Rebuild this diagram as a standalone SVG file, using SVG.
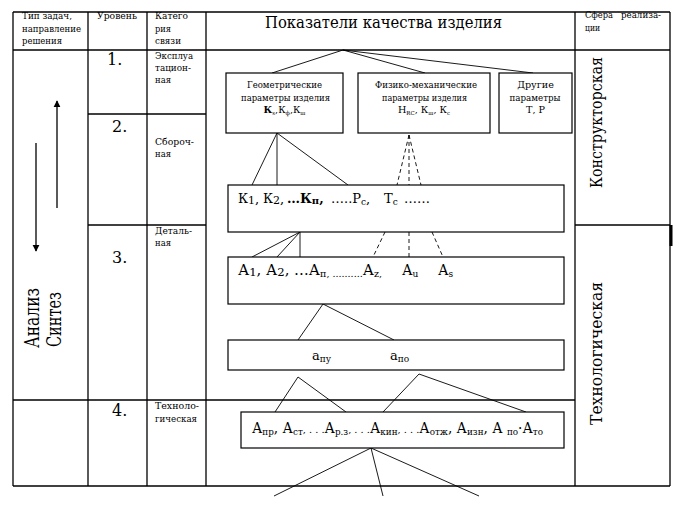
<svg xmlns="http://www.w3.org/2000/svg" width="683" height="506" viewBox="0 0 683 506">
<defs>
<style>
text{font-family:"DejaVu Serif","Liberation Serif",serif;fill:#000}
.t{stroke:#000;stroke-width:1.3;fill:none}
.b{stroke:#000;stroke-width:1.2;fill:#fff}
.c{stroke:#000;stroke-width:0.9;fill:none}
.d{stroke:#000;stroke-width:0.9;fill:none;stroke-dasharray:4 3}
.s11{font-size:10px}
.s10{font-size:9.6px}
.big{font-size:14px}
.kr{font-size:13px}
.sub{font-size:9px}
.num{font-size:16px}
</style>
<marker id="ah" viewBox="0 0 10 10" refX="9" refY="5" markerWidth="7" markerHeight="9" orient="auto" markerUnits="userSpaceOnUse">
<path d="M0,0 L10,5 L0,10 z" fill="#000"/>
</marker>
</defs>
<rect width="683" height="506" fill="#fff"/>

<g id="table">
<line class="t" x1="13" y1="12" x2="670" y2="12"/>
<line class="t" x1="13" y1="50" x2="670" y2="50"/>
<line class="t" x1="13" y1="486" x2="670" y2="486"/>
<line class="t" x1="13" y1="12" x2="13" y2="486"/>
<line class="t" x1="88" y1="12" x2="88" y2="486"/>
<line class="t" x1="147" y1="12" x2="147" y2="486"/>
<line class="t" x1="206" y1="12" x2="206" y2="486"/>
<line class="t" x1="575" y1="12" x2="575" y2="486"/>
<line class="t" x1="670" y1="12" x2="670" y2="486"/>
<line class="t" x1="88" y1="114" x2="206" y2="114"/>
<line class="t" x1="88" y1="225" x2="206" y2="225"/>
<line class="t" x1="575" y1="225" x2="670" y2="225"/>
<line class="t" x1="13" y1="400" x2="575" y2="400"/>
<rect x="669.5" y="225" width="3" height="21" fill="#000"/>
</g>

<g id="headers">
<text class="s11" x="22" y="19" textLength="50" lengthAdjust="spacingAndGlyphs">Тип задач,</text>
<text class="s11" x="22" y="32" textLength="59" lengthAdjust="spacingAndGlyphs">направление</text>
<text class="s11" x="22" y="44" textLength="40" lengthAdjust="spacingAndGlyphs">решения</text>
<text class="s11" x="97" y="19" textLength="40" lengthAdjust="spacingAndGlyphs">Уровень</text>
<text class="s11" x="155" y="19" textLength="33" lengthAdjust="spacingAndGlyphs">Катего</text>
<text class="s11" x="155" y="32" textLength="16" lengthAdjust="spacingAndGlyphs">рия</text>
<text class="s11" x="155" y="44" textLength="26" lengthAdjust="spacingAndGlyphs">связи</text>
<text x="265" y="28" font-size="17" textLength="237" lengthAdjust="spacingAndGlyphs">Показатели качества изделия</text>
<text class="s11" x="585" y="18" textLength="28" lengthAdjust="spacingAndGlyphs">Сфера</text>
<text class="s11" x="621" y="18" textLength="40" lengthAdjust="spacingAndGlyphs">реализа-</text>
<text class="s11" x="585" y="31" textLength="15" lengthAdjust="spacingAndGlyphs">ции</text>
</g>

<g id="levels">
<text class="num" x="107" y="65">1.</text>
<text class="num" x="112" y="132">2.</text>
<text class="num" x="112" y="263">3.</text>
<text class="num" x="112" y="416">4.</text>
<text class="s11" x="155" y="59" textLength="38" lengthAdjust="spacingAndGlyphs">Эксплуа</text>
<text class="s11" x="155" y="71" textLength="36" lengthAdjust="spacingAndGlyphs">тацион-</text>
<text class="s11" x="155" y="83" textLength="16" lengthAdjust="spacingAndGlyphs">ная</text>
<text class="s11" x="155" y="145" textLength="39" lengthAdjust="spacingAndGlyphs">Сбороч-</text>
<text class="s11" x="155" y="157" textLength="16" lengthAdjust="spacingAndGlyphs">ная</text>
<text class="s11" x="155" y="234" textLength="37" lengthAdjust="spacingAndGlyphs">Деталь-</text>
<text class="s11" x="155" y="246" textLength="16" lengthAdjust="spacingAndGlyphs">ная</text>
<text class="s11" x="155" y="409" textLength="44" lengthAdjust="spacingAndGlyphs">Техноло-</text>
<text class="s11" x="155" y="422" textLength="42" lengthAdjust="spacingAndGlyphs">гическая</text>
</g>

<g id="direction">
<line class="t" x1="57" y1="208" x2="57" y2="101" marker-end="url(#ah)"/>
<line class="t" x1="36" y1="143" x2="36" y2="251" marker-end="url(#ah)"/>
<text x="0" y="0" font-size="20" transform="translate(39,348) rotate(-90)" textLength="60" lengthAdjust="spacingAndGlyphs">Анализ</text>
<text x="0" y="0" font-size="20" transform="translate(61,347) rotate(-90)" textLength="55" lengthAdjust="spacingAndGlyphs">Синтез</text>
</g>

<g id="spheres">
<text x="0" y="0" font-size="16.5" transform="translate(602,188) rotate(-90)" textLength="131" lengthAdjust="spacingAndGlyphs">Конструкторская</text>
<text x="0" y="0" font-size="16.5" transform="translate(602,425) rotate(-90)" textLength="143" lengthAdjust="spacingAndGlyphs">Технологическая</text>
</g>

<g id="connectors">
<line class="c" x1="343" y1="50" x2="272" y2="73"/>
<line class="c" x1="343" y1="50" x2="425" y2="73"/>
<line class="c" x1="343" y1="50" x2="533" y2="73"/>
<line class="c" x1="277" y1="133" x2="252" y2="185"/>
<line class="c" x1="277" y1="133" x2="277" y2="185"/>
<line class="c" x1="277" y1="133" x2="348" y2="185"/>
<line class="d" x1="409" y1="135" x2="397" y2="185"/>
<line class="d" x1="409" y1="135" x2="409" y2="185"/>
<line class="d" x1="409" y1="135" x2="421" y2="185"/>
<line class="c" x1="300" y1="232" x2="252" y2="257"/>
<line class="c" x1="300" y1="232" x2="277" y2="257"/>
<line class="c" x1="300" y1="232" x2="300" y2="257"/>
<line class="d" x1="385" y1="232" x2="373" y2="257"/>
<line class="d" x1="409" y1="232" x2="409" y2="257"/>
<line class="d" x1="432" y1="232" x2="443" y2="257"/>
<line class="c" x1="323" y1="304" x2="298" y2="340"/>
<line class="c" x1="323" y1="304" x2="394" y2="340"/>
<line class="c" x1="298" y1="377" x2="275" y2="412"/>
<line class="c" x1="298" y1="377" x2="346" y2="412"/>
<line class="c" x1="419" y1="374" x2="383" y2="412"/>
<line class="c" x1="419" y1="374" x2="526" y2="412"/>
<line class="c" x1="371" y1="448" x2="274" y2="496"/>
<line class="c" x1="371" y1="448" x2="383" y2="496"/>
<line class="c" x1="371" y1="448" x2="479" y2="496"/>
</g>

<g id="geom">
<rect class="b" x="226" y="73" width="117" height="60"/>
<text class="s10" x="247" y="88" textLength="75" lengthAdjust="spacingAndGlyphs">Геометрические</text>
<text class="s10" x="241" y="101" textLength="89" lengthAdjust="spacingAndGlyphs">параметры изделия</text>
<text class="s10" x="284.5" y="113" text-anchor="middle"><tspan font-weight="bold">К</tspan><tspan font-size="5.5" dy="2">s</tspan><tspan dy="-2">,К</tspan><tspan font-size="5.5" dy="2">ф</tspan><tspan dy="-2">,К</tspan><tspan font-size="5.5" dy="2">ш</tspan></text>
</g>

<g id="phys">
<rect class="b" x="358" y="73" width="132" height="60"/>
<text class="s10" x="375" y="88" textLength="102" lengthAdjust="spacingAndGlyphs">Физико-механические</text>
<text class="s10" x="382" y="101" textLength="85" lengthAdjust="spacingAndGlyphs">параметры изделия</text>
<text class="s10" x="424" y="113" text-anchor="middle">Н<tspan font-size="5.5" dy="2">RC</tspan><tspan dy="-2">, К</tspan><tspan font-size="5.5" dy="2">ш</tspan><tspan dy="-2">, К</tspan><tspan font-size="5.5" dy="2">с</tspan></text>
</g>

<g id="other">
<rect class="b" x="499" y="73" width="73" height="60"/>
<text class="s10" x="535.5" y="88" text-anchor="middle">Другие</text>
<text class="s10" x="509.5" y="101" textLength="51" lengthAdjust="spacingAndGlyphs">параметры</text>
<text class="s10" x="535.5" y="113" text-anchor="middle">Т, Р</text>
</g>

<g id="kbox">
<rect class="b" x="228" y="185" width="336" height="47"/>
<text class="kr" x="238" y="203">К<tspan font-size="11" dy="1">1</tspan><tspan dy="-1">,</tspan></text>
<text class="kr" x="263" y="203">К<tspan font-size="11" dy="1">2</tspan><tspan dy="-1">,</tspan></text>
<text class="kr" x="287" y="203" font-weight="bold">…К<tspan font-size="10" dy="1">п</tspan><tspan dy="-1">,</tspan></text>
<text class="kr" x="331" y="203">…..Р<tspan class="sub" dy="2">с</tspan><tspan dy="-2">,</tspan></text>
<text class="kr" x="384" y="203">Т<tspan class="sub" dy="2">с</tspan></text>
<text class="kr" x="404" y="203">……</text>
</g>

<g id="abox">
<rect class="b" x="228" y="257" width="336" height="47"/>
<text class="big" x="238" y="275" textLength="144" lengthAdjust="spacingAndGlyphs">А<tspan font-size="11" dy="1">1</tspan><tspan dy="-1">, А</tspan><tspan font-size="11" dy="1">2</tspan><tspan dy="-1">, …А</tspan><tspan class="sub" dy="2">п, ..........</tspan><tspan dy="-2">А</tspan><tspan class="sub" dy="2">z,</tspan></text>
<text class="big" x="402" y="275">А<tspan class="sub" dy="2">u</tspan></text>
<text class="big" x="438" y="275">А<tspan class="sub" dy="2">s</tspan></text>
</g>

<g id="smallabox">
<rect class="b" x="228" y="340" width="336" height="30"/>
<text font-size="13" x="312" y="360">а<tspan class="sub" dy="2">пу</tspan></text>
<text font-size="13" x="390" y="360">а<tspan class="sub" dy="2">по</tspan></text>
</g>

<g id="techbox">
<rect class="b" x="241" y="412" width="323" height="36"/>
<text class="big" x="252" y="433" textLength="291" lengthAdjust="spacingAndGlyphs">А<tspan class="sub" dy="2">пр</tspan><tspan dy="-2">, А</tspan><tspan class="sub" dy="2">ст</tspan><tspan dy="-2" font-size="10">, . . .</tspan><tspan>А</tspan><tspan class="sub" dy="2">р.з</tspan><tspan dy="-2" font-size="10">, . . .</tspan><tspan>А</tspan><tspan class="sub" dy="2">кин</tspan><tspan dy="-2" font-size="10">,  . . .</tspan><tspan>А</tspan><tspan class="sub" dy="2">отж</tspan><tspan dy="-2">, А</tspan><tspan class="sub" dy="2">изн</tspan><tspan dy="-2">, А </tspan><tspan class="sub" dy="2">по</tspan><tspan dy="-2">·А</tspan><tspan class="sub" dy="2">то</tspan></text>
</g>
</svg>
